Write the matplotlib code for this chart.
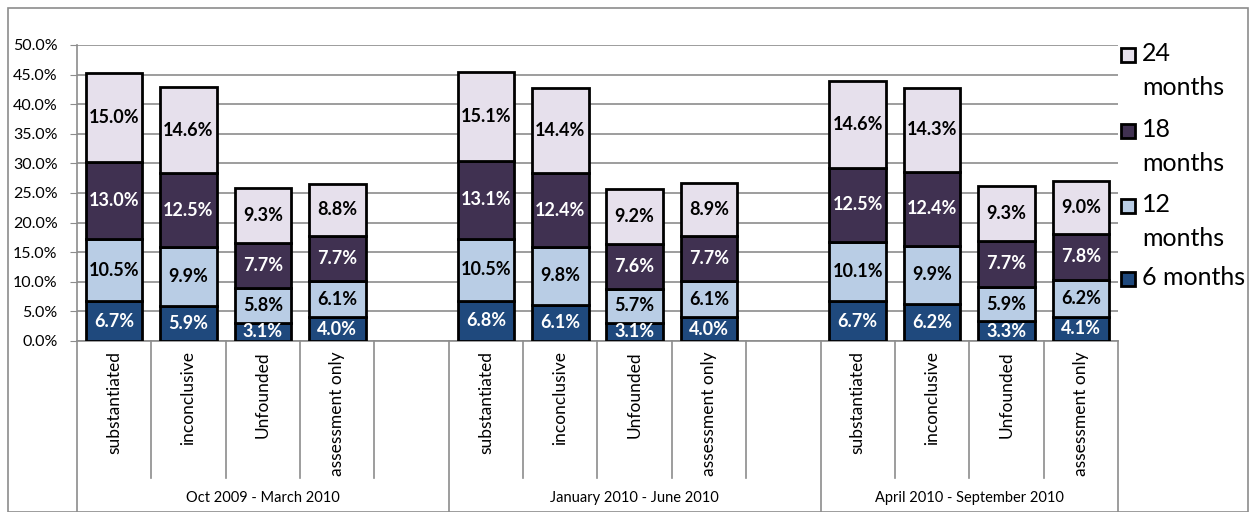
import numpy as np
import matplotlib
matplotlib.use("Agg")
import matplotlib.pyplot as plt
import matplotlib.transforms as mtransforms
from matplotlib.patches import Rectangle

plt.rcParams['font.family'] = ['Lato', 'DejaVu Sans']

periods = ['Oct 2009 - March 2010', 'January 2010 - June 2010', 'April 2010 - September 2010']
outcomes = ['substantiated', 'inconclusive', 'Unfounded', 'assessment only']
series_names = ['6 months', '12 months', '18 months', '24 months']
legend_labels = ['6 months', '12\nmonths', '18\nmonths', '24\nmonths']

# values in %, one list per period (substantiated, inconclusive, Unfounded, assessment only)
m6 = [[6.7, 5.9, 3.1, 4.0], [6.8, 6.1, 3.1, 4.0], [6.7, 6.2, 3.3, 4.1]]
m12 = [[10.5, 9.9, 5.8, 6.1], [10.5, 9.8, 5.7, 6.1], [10.1, 9.9, 5.9, 6.2]]
m18 = [[13.0, 12.5, 7.7, 7.7], [13.1, 12.4, 7.6, 7.7], [12.5, 12.4, 7.7, 7.8]]
m24 = [[15.0, 14.6, 9.3, 8.8], [15.1, 14.4, 9.2, 8.9], [14.6, 14.3, 9.3, 9.0]]

colors = ['#1F497D', '#B9CDE5', '#403151', '#E6E0EC']
text_colors = ['white', 'black', 'white', 'black']

# slot layout: 4 bars + 1 blank slot per period, last period has no blank
slots_per_group = [5, 5, 4]
starts = np.cumsum([0] + slots_per_group[:-1])
nslots = sum(slots_per_group)

W, H = 1254, 512
fig = plt.figure(figsize=(W / 100, H / 100), dpi=100)
ax = fig.add_axes([77 / W, 1 - 341 / H, (1118 - 77) / W, 296 / H])

all_series = [m6, m12, m18, m24]
for g in range(3):
    xs = starts[g] + np.arange(4)
    bottom = np.zeros(4)
    for s in range(4):
        vals = np.array(all_series[s][g]) / 100
        ax.bar(xs, vals, width=0.76, bottom=bottom, color=colors[s],
               edgecolor='black', linewidth=2, zorder=3)
        for x, v, b in zip(xs, vals, bottom):
            ax.text(x, b + v / 2, f'{v * 100:.1f}%', ha='center', va='center',
                    fontsize=13, fontweight='bold', color=text_colors[s], zorder=4)
        bottom = bottom + vals

ax.set_xlim(-0.5, nslots - 0.5)
ax.set_ylim(0, 0.5)
ax.set_yticks(np.arange(0, 0.501, 0.05))
ax.set_yticklabels([f'{t * 100:.1f}%' for t in np.arange(0, 0.501, 0.05)], fontsize=11.5)
ax.yaxis.grid(True, color='#8c8c8c', linewidth=1.2, zorder=0)
ax.set_xticks([])
for sp in ['top', 'right']:
    ax.spines[sp].set_visible(False)
ax.spines['left'].set_color('#8c8c8c')
ax.spines['bottom'].set_color('#8c8c8c')
ax.spines['left'].set_linewidth(1.2)
ax.spines['bottom'].set_linewidth(1.2)
ax.tick_params(axis='y', length=5, color='#8c8c8c', pad=9)

# category axis drawn by hand below the plot
trans = mtransforms.blended_transform_factory(ax.transData, ax.transAxes)
short = -137 / 296
long_ = -172 / 296
group_edges = set(list(starts) + [nslots])
for k in range(nslots + 1):
    y1 = long_ if k in group_edges else short
    ax.plot([k - 0.5, k - 0.5], [0, y1], color='#8c8c8c', linewidth=1.2,
            transform=trans, clip_on=False)
for g in range(3):
    for i, name in enumerate(outcomes):
        ax.text(starts[g] + i, -10 / 296, name, rotation=90, ha='center', va='top',
                fontsize=12.5, transform=trans)
    mid = starts[g] + (slots_per_group[g] - 1) / 2
    ax.text(mid, -157 / 296, periods[g], ha='center', va='center',
            fontsize=10.5, transform=trans)

# legend, drawn by hand so the marker sits on the first line like Excel does
leg_y = [279, 206, 131, 55]  # pixel rows of each entry's first line (6, 12, 18, 24 months)
for s in range(4):
    y = leg_y[s]
    fig.patches.append(Rectangle(((1121) / W, 1 - (y + 7) / H), 14 / W, 14 / H,
                                 transform=fig.transFigure, facecolor=colors[s],
                                 edgecolor='black', linewidth=2))
    fig.text(1142 / W, 1 - y / H, legend_labels[s], ha='left', va='top',
             fontsize=18, linespacing=1.57,
             transform=mtransforms.offset_copy(fig.transFigure, fig=fig, y=13, units='dots'))

fig.patches.append(Rectangle((8 / W, 0), 1240 / W, 504 / H, transform=fig.transFigure,
                             fill=False, edgecolor='#8c8c8c', linewidth=1.2))

fig.savefig('out.png', dpi=100)
